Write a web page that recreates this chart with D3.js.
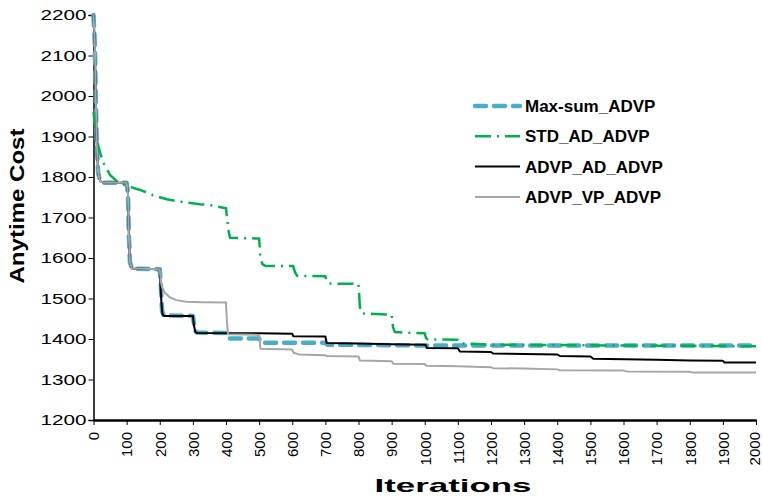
<!DOCTYPE html>
<html lang="en">
<head>
    <meta charset="UTF-8">
    <title>Anytime Cost</title>
    <style>
        body { margin: 0; background: #fff; }
        text { font-family: "Liberation Sans", Arial, sans-serif; fill: #000; }
        .legend text { font-weight: bold; font-size: 17px; }
    </style>
</head>
<body>
<svg id="chart"></svg>
<script src="https://cdnjs.cloudflare.com/ajax/libs/d3/7.8.5/d3.min.js"></script>
<script>
    var width = 762;
    var height = 497;

    // x tick labels (iterations) and y tick labels (cost)
    var xTicks = d3.range(0, 2001, 100);
    var yTicks = d3.range(1200, 2201, 100);

    // each series: [iteration, anytime cost]
    var maxSum = [[0,2200],[4,2130],[7,1990],[10,1880],[14,1810],[20,1790],[30,1786],[100,1786],
        [104,1760],[107,1650],[110,1590],[116,1574],[200,1572],[203,1540],[207,1470],[212,1458],
        [300,1457],[303,1440],[307,1420],[312,1416],[400,1415],[404,1405],[410,1401],[500,1401],
        [505,1391],[700,1391],[705,1386],[1000,1384],[2000,1384]];
    var stdAD = [[0,1960],[5,1920],[10,1890],[20,1860],[30,1835],[50,1805],[70,1790],[100,1778],
        [141,1768],[180,1755],[221,1745],[270,1738],[322,1733],[350,1731],[400,1723],[403,1700],
        [407,1670],[412,1650],[500,1648],[504,1600],[510,1585],[520,1580],[603,1580],[608,1565],
        [615,1556],[700,1555],[703,1545],[710,1537],[800,1536],[804,1480],[810,1463],[900,1460],
        [904,1430],[910,1417],[1000,1414],[1004,1402],[1010,1399],[1100,1398],[1104,1392],
        [1110,1389],[1200,1386],[2000,1382]];
    var advpAD = [[0,2200],[4,2130],[7,1990],[10,1880],[14,1810],[20,1790],[30,1786],[100,1786],
        [104,1760],[107,1650],[110,1590],[116,1574],[200,1572],[202,1535],[205,1490],[208,1462],
        [212,1457],[300,1457],[303,1435],[307,1418],[312,1415],[500,1414],[600,1413],[603,1407],
        [700,1406],[704,1390],[800,1389],[900,1387],[1003,1386],[1006,1378],[1100,1377],
        [1106,1369],[1200,1368],[1207,1364],[1400,1362],[1408,1358],[1500,1357],[1509,1351],
        [1700,1349],[1800,1347],[1900,1346],[1905,1342],[2000,1342]];
    var advpVP = [[0,2200],[4,2130],[7,1990],[10,1880],[14,1810],[20,1790],[30,1786],[100,1786],
        [104,1760],[107,1650],[110,1590],[116,1574],[200,1572],[203,1545],[206,1530],[215,1515],
        [230,1503],[250,1496],[280,1492],[330,1491],[400,1490],[403,1440],[406,1412],[500,1410],
        [504,1376],[600,1374],[604,1366],[620,1362],[700,1360],[705,1358],[800,1357],[804,1347],
        [900,1345],[905,1339],[1000,1338],[1006,1334],[1100,1333],[1200,1330],[1207,1328],
        [1300,1327],[1400,1325],[1408,1323],[1600,1322],[1609,1320],[1800,1319],[1810,1317],
        [2000,1317]];

    var seriesNames = ["Max-sum_ADVP", "STD_AD_ADVP", "ADVP_AD_ADVP", "ADVP_VP_ADVP"];
    var seriesData = [maxSum, stdAD, advpAD, advpVP];

    var styles = [
        {color: "#4bacc6", w: 4.5, dash: "11,8", cap: "round"},
        {color: "#00b050", w: 2.5, dash: "16,6,2,6", cap: "butt"},
        {color: "#000000", w: 2, dash: null, cap: "butt"},
        {color: "#a6a6a6", w: 2, dash: null, cap: "butt"}
    ];

    var svg = d3.select("#chart").attr("width", width).attr("height", height);

    var x = d3.scaleLinear().domain([0, 2000]).range([93.5, 756]);
    var y = d3.scaleLinear().domain([1200, 2200]).range([420, 15]);

    // y axis
    var yAxis = svg.append("g")
        .attr("transform", "translate(93.5,0)")
        .call(d3.axisLeft(y).tickValues(yTicks).tickSize(5).tickPadding(2).tickFormat(d3.format("d")));
    yAxis.select(".domain").attr("stroke", "#000").attr("stroke-width", 1.5);
    yAxis.selectAll(".tick line").attr("stroke", "#000").attr("stroke-width", 1);
    yAxis.selectAll(".tick text")
        .attr("font-size", 15)
        .attr("font-family", "Liberation Sans, Arial, sans-serif")
        .attr("textLength", 46)
        .attr("lengthAdjust", "spacingAndGlyphs");

    // lines
    var line = d3.line()
        .x(function(d) { return x(d[0]); })
        .y(function(d) { return y(d[1]); });

    svg.append("g").selectAll("path")
        .data(seriesData)
        .enter()
        .append("path")
        .attr("d", line)
        .attr("fill", "none")
        .attr("stroke", function(d, i) { return styles[i].color; })
        .attr("stroke-width", function(d, i) { return styles[i].w; })
        .attr("stroke-dasharray", function(d, i) { return styles[i].dash; })
        .attr("stroke-linecap", function(d, i) { return styles[i].cap; })
        .attr("stroke-linejoin", "round");

    // x axis
    var xAxis = svg.append("g")
        .attr("transform", "translate(0,420)")
        .call(d3.axisBottom(x).tickValues(xTicks).tickSize(5).tickSizeOuter(0).tickFormat(d3.format("d")));
    xAxis.select(".domain").attr("stroke", "#000").attr("stroke-width", 2.5);
    xAxis.selectAll(".tick line").attr("stroke", "#000").attr("stroke-width", 1);
    xAxis.selectAll(".tick text")
        .attr("font-size", 15)
        .attr("font-family", "Liberation Sans, Arial, sans-serif")
        .attr("text-anchor", "end")
        // last label sits at the window edge, nudge it in a touch
        .attr("transform", function(d) { return "translate(" + (d === 2000 ? -1.5 : 0) + ",12) rotate(-90)"; })
        .attr("x", 0)
        .attr("y", 0)
        .attr("dy", "0.35em");

    // axis titles
    svg.append("text")
        .attr("transform", "translate(24,206) rotate(-90)")
        .attr("text-anchor", "middle")
        .attr("font-weight", "bold")
        .attr("font-size", 20)
        .attr("textLength", 155)
        .attr("lengthAdjust", "spacingAndGlyphs")
        .text("Anytime Cost");

    svg.append("text")
        .attr("x", 453)
        .attr("y", 492)
        .attr("text-anchor", "middle")
        .attr("font-weight", "bold")
        .attr("font-size", 19)
        .attr("textLength", 157)
        .attr("lengthAdjust", "spacingAndGlyphs")
        .text("Iterations");

    // legend
    var legend = svg.append("g").attr("class", "legend");
    var item = legend.selectAll("g")
        .data(seriesNames)
        .enter()
        .append("g")
        .attr("transform", function(d, i) { return "translate(475," + (106 + i * 30.3) + ")"; });
    item.append("line")
        .attr("x1", 0).attr("x2", 45)
        .attr("stroke", function(d, i) { return styles[i].color; })
        .attr("stroke-width", function(d, i) { return styles[i].w; })
        .attr("stroke-dasharray", function(d, i) { return styles[i].dash; })
        .attr("stroke-linecap", function(d, i) { return styles[i].cap; });
    item.append("text")
        .attr("x", 50)
        .attr("dy", "0.36em")
        .text(function(d) { return d; });
</script>
</body>
</html>
